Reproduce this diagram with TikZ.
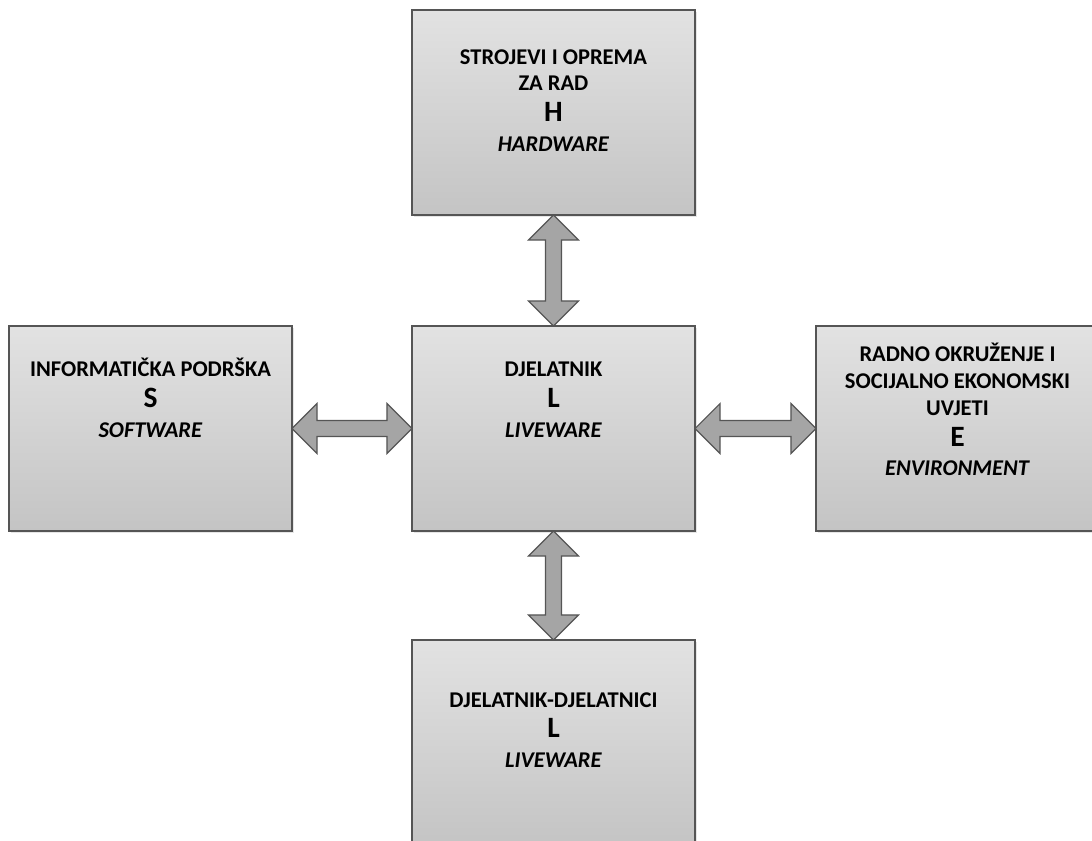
\documentclass[tikz,border=0pt]{standalone}
\usepackage{fontspec}
\setmainfont{Carlito}
\usepackage{tikz}
\usetikzlibrary{positioning,calc,shadows}
\definecolor{boxtop}{RGB}{226,226,226}
\definecolor{boxbot}{RGB}{196,196,196}
\definecolor{boxline}{RGB}{85,85,85}
\definecolor{arrfill}{RGB}{165,165,165}
\newcommand{\bigletter}[1]{{\fontsize{21}{19}\selectfont #1}}
%vertical double arrow from #1 (upper) to #2 (lower)
\newcommand{\varrow}[2]{\draw[arr] (#1) -- ++(-25,25) -- ++(17,0) -- ($(#2)+(-8,-25)$) -- ++(-17,0) -- (#2) -- ++(25,-25) -- ++(-17,0) -- ($(#1)+(8,25)$) -- ++(17,0) -- cycle;}
%horizontal double arrow from #1 (left) to #2 (right)
\newcommand{\harrow}[2]{\draw[arr] (#1) -- ++(25,-25) -- ++(0,17) -- ($(#2)+(-25,-8)$) -- ++(0,-17) -- (#2) -- ++(-25,25) -- ++(0,-17) -- ($(#1)+(25,8)$) -- ++(0,17) -- cycle;}
\begin{document}
\begin{tikzpicture}[x=0.025cm,y=-0.025cm,
  box/.style={rectangle,draw=boxline,line width=0.8pt,top color=boxtop,bottom color=boxbot,
    minimum width=7.075cm,minimum height=5.125cm,inner sep=0,outer sep=0,
    drop shadow={shadow xshift=1.5pt,shadow yshift=-1.5pt,opacity=0.2}},
  txt/.style={align=center,inner sep=0,font=\bfseries\fontsize{16}{19}\selectfont},
  arr/.style={draw=boxline,fill=arrfill,line width=0.8pt,line join=miter}]
\useasboundingbox (0,0) rectangle (1092,841);
%Boxes
\node[box] at (553.5,112.5) (h) {};
\node[box] at (553.5,428.5) (l) {};
\node[box] at (150.5,428.5) (s) {};
\node[box] at (957.5,428.5) (e) {};
\node[box] at (553.5,742.5) (b) {};
%Texts
\node[txt,below=0.975cm of h.north] (ht) {STROJEVI I OPREMA\\ZA RAD\\[3pt]\bigletter{H}\\[2pt]\textit{HARDWARE}};
\node[txt,below=0.9cm of l.north] (lt) {DJELATNIK\\[3pt]\bigletter{L}\\[2pt]\textit{LIVEWARE}};
\node[txt,below=0.8cm of s.north] (st) {INFORMATIČKA PODRŠKA\\[3pt]\bigletter{S}\\[2pt]\textit{SOFTWARE}};
\node[txt,below=0.425cm of e.north] (et) {RADNO OKRUŽENJE I\\SOCIJALNO EKONOMSKI\\UVJETI\\[3pt]\bigletter{E}\\[2pt]\textit{ENVIRONMENT}};
\node[txt,below=1.3cm of b.north] (bt) {DJELATNIK-DJELATNICI\\[3pt]\bigletter{L}\\[2pt]\textit{LIVEWARE}};
%Arrows
\varrow{h.south}{l.north}
\varrow{l.south}{b.north}
\harrow{s.east}{l.west}
\harrow{l.east}{e.west}
\end{tikzpicture}
\end{document}
